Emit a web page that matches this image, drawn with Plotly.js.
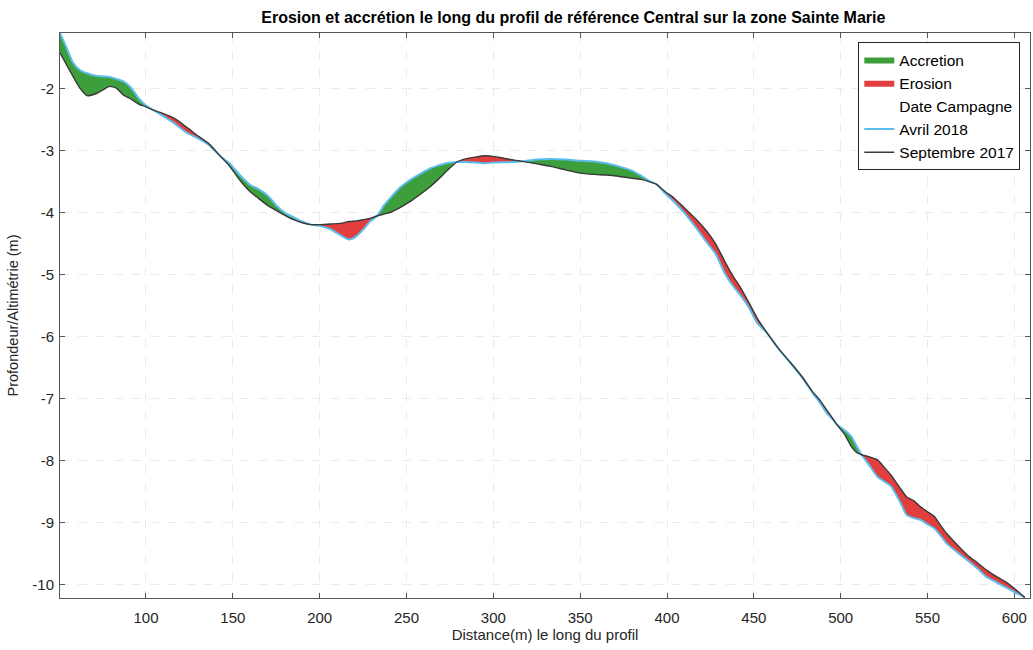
<!DOCTYPE html>
<html>
<head>
<meta charset="utf-8">
<script src="https://cdn.plot.ly/plotly-3.0.1.min.js"></script>
<style>html,body{margin:0;padding:0;background:#fff;}#chart{width:1033px;height:650px;}</style>
</head>
<body>
<div id="chart"></div>
<script>
// Distance along profile (m)
const distance = [50.5,54,58,62,66,71,75,79,83,87,91,96,100,104,110,116,123,130,136,143,148,154,160,165,170,175,180,185,190,195,200,206,212,217,221,225,229,233,237,241,246,252,258,264,269,273,279,284,290,295,300,306,312,317,325,333,342,350,358,365,372,379,385,390,394,399,404,410,417,423,428,433,438,442,447,452,458,464,471,478,484,488,492,496,498,502,506,509,512,516,521,525,529,534,538,542,546,550,554,558,561,567,573,579,584,590,596,601,606];
// Avril 2018 survey (m)
const avril2018 = [-1.10,-1.32,-1.58,-1.70,-1.75,-1.79,-1.80,-1.81,-1.84,-1.88,-1.97,-2.16,-2.27,-2.34,-2.44,-2.55,-2.70,-2.80,-2.90,-3.09,-3.20,-3.39,-3.55,-3.62,-3.72,-3.88,-4.00,-4.07,-4.14,-4.19,-4.21,-4.26,-4.36,-4.43,-4.38,-4.27,-4.14,-4.05,-3.88,-3.75,-3.60,-3.47,-3.37,-3.28,-3.23,-3.20,-3.18,-3.18,-3.19,-3.20,-3.19,-3.185,-3.18,-3.17,-3.14,-3.13,-3.14,-3.16,-3.17,-3.20,-3.25,-3.31,-3.40,-3.49,-3.54,-3.69,-3.82,-4.00,-4.25,-4.48,-4.66,-4.96,-5.18,-5.32,-5.52,-5.78,-5.95,-6.18,-6.42,-6.66,-6.91,-7.06,-7.23,-7.35,-7.42,-7.50,-7.60,-7.75,-7.90,-8.05,-8.25,-8.33,-8.41,-8.65,-8.87,-8.92,-8.95,-9.02,-9.09,-9.22,-9.33,-9.47,-9.60,-9.74,-9.87,-9.96,-10.05,-10.13,-10.20];
// Septembre 2017 survey (m)
const sept2017 = [-1.42,-1.60,-1.80,-1.99,-2.11,-2.08,-2.02,-1.96,-1.99,-2.10,-2.16,-2.25,-2.29,-2.34,-2.40,-2.47,-2.61,-2.76,-2.88,-3.09,-3.24,-3.47,-3.66,-3.77,-3.88,-3.96,-4.04,-4.11,-4.16,-4.19,-4.19,-4.18,-4.17,-4.14,-4.13,-4.11,-4.09,-4.05,-4.02,-3.99,-3.92,-3.82,-3.70,-3.57,-3.44,-3.33,-3.18,-3.13,-3.10,-3.08,-3.09,-3.12,-3.15,-3.17,-3.21,-3.25,-3.31,-3.36,-3.38,-3.39,-3.41,-3.44,-3.46,-3.50,-3.54,-3.66,-3.76,-3.92,-4.11,-4.30,-4.50,-4.77,-5.02,-5.19,-5.44,-5.70,-5.95,-6.18,-6.41,-6.65,-6.89,-7.02,-7.18,-7.34,-7.42,-7.56,-7.76,-7.86,-7.90,-7.93,-7.98,-8.10,-8.23,-8.43,-8.58,-8.64,-8.74,-8.82,-8.90,-9.06,-9.17,-9.35,-9.52,-9.65,-9.76,-9.87,-9.97,-10.08,-10.20];

const xTicks = [100,150,200,250,300,350,400,450,500,550,600];
const yTicks = [-2,-3,-4,-5,-6,-7,-8,-9,-10];

const upper = avril2018.map((a,i)=>Math.max(a,sept2017[i]));
const lower = avril2018.map((a,i)=>Math.min(a,sept2017[i]));

const green = '#3c9f3c';
const red = '#e23e3e';
const font = 'Liberation Sans, Arial, Helvetica, sans-serif';
const sp = {shape:'spline', smoothing:0.6};

const traces = [
  {x:distance, y:sept2017, mode:'lines', line:Object.assign({width:0, color:'rgba(0,0,0,0)'}, sp), showlegend:false, hoverinfo:'skip'},
  {x:distance, y:upper, mode:'lines', line:Object.assign({width:0, color:'rgba(0,0,0,0)'}, sp), fill:'tonexty', fillcolor:green, name:'Accretion', legendrank:1},
  {x:distance, y:sept2017, mode:'lines', line:Object.assign({width:0, color:'rgba(0,0,0,0)'}, sp), showlegend:false, hoverinfo:'skip'},
  {x:distance, y:lower, mode:'lines', line:Object.assign({width:0, color:'rgba(0,0,0,0)'}, sp), fill:'tonexty', fillcolor:red, name:'Erosion', legendrank:2},
  {x:[null], y:[null], mode:'lines', line:{width:0, color:'rgba(0,0,0,0)'}, name:'Date Campagne', legendrank:3},
  {x:distance, y:avril2018, mode:'lines', line:Object.assign({width:2, color:'#5bbdee'}, sp), name:'Avril 2018', legendrank:4},
  {x:distance, y:sept2017, mode:'lines', line:Object.assign({width:1.4, color:'#3a3a3a'}, sp), name:'Septembre 2017', legendrank:5}
];

const axisCommon = {
  showline:true, linecolor:'#555', linewidth:1, mirror:'ticks',
  ticks:'inside', ticklen:5, tickcolor:'#555',
  showgrid:true, gridcolor:'#ebebeb', griddash:'dash', gridwidth:1,
  zeroline:false, tickfont:{family:font, size:15, color:'#262626'}
};

const layout = {
  width:1033, height:650,
  margin:{l:60, r:3, t:33, b:52},
  paper_bgcolor:'#fff', plot_bgcolor:'#fff',
  title:{text:'<b>Erosion et accrétion le long du profil de référence Central sur la zone Sainte Marie</b>',
         font:{family:font, size:16, color:'#000'}, x:0.555, xanchor:'center', y:0.974, yanchor:'middle'},
  xaxis:Object.assign({}, axisCommon, {range:[50.5,609], tickvals:xTicks, ticktext:xTicks.map(String), ticklabelstandoff:6,
         title:{text:'Distance(m) le long du profil', font:{family:font, size:15, color:'#262626'}, standoff:4}}),
  yaxis:Object.assign({}, axisCommon, {range:[-10.21,-1.1], tickvals:yTicks, ticktext:yTicks.map(String), ticklabelstandoff:2,
         title:{text:'Profondeur/Altimétrie (m)', font:{family:font, size:14.5, color:'#262626'}, standoff:10}}),
  legend:{x:0.99, xanchor:'right', y:0.984, yanchor:'top', bgcolor:'#fff', bordercolor:'#262626', borderwidth:1,
          font:{family:font, size:15.5, color:'#000'}, traceorder:'normal', tracegroupgap:0, itemwidth:30},
  showlegend:true
};

Plotly.newPlot('chart', traces, layout, {displayModeBar:false, staticPlot:true});
</script>
</body>
</html>
